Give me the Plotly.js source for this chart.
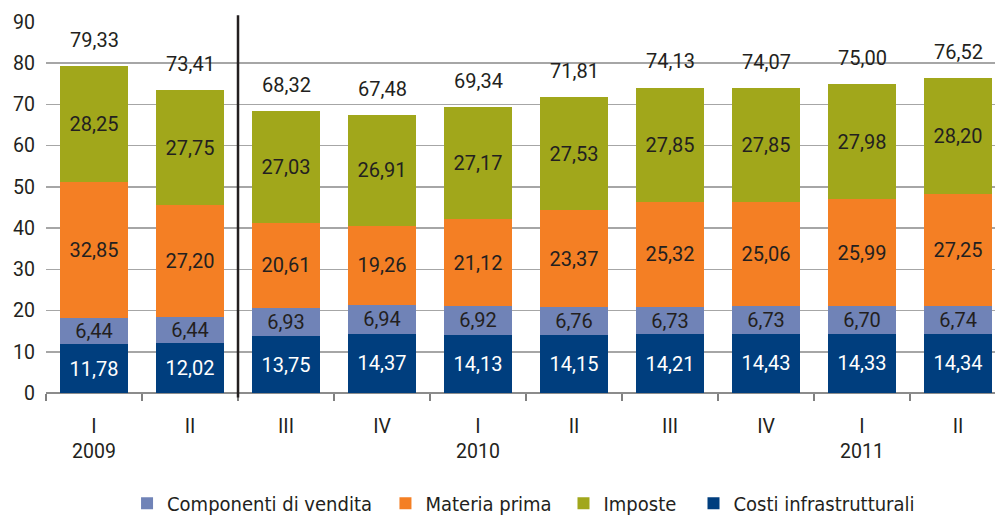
<!DOCTYPE html>
<html>
<head>
<meta charset="utf-8">
<script src="https://cdn.plot.ly/plotly-3.0.1.min.js"></script>
<style>html,body{margin:0;padding:0;background:#fff;}#chart{width:995px;height:515px;}</style>
</head>
<body>
<div id="chart"></div>
<script>
// ---- data ----
var categories = ["2009 I","2009 II","2009 III","2009 IV","2010 I","2010 II","2010 III","2010 IV","2011 I","2011 II"];
var tickLabels = ["I<br>2009","II","III","IV","I<br>2010","II","III","IV","I<br>2011","II"];
var costiInfrastrutturali = [11.78,12.02,13.75,14.37,14.13,14.15,14.21,14.43,14.33,14.34];
var componentiVendita    = [6.44,6.44,6.93,6.94,6.92,6.76,6.73,6.73,6.70,6.74];
var materiaPrima         = [32.85,27.20,20.61,19.26,21.12,23.37,25.32,25.06,25.99,27.25];
var imposte              = [28.25,27.75,27.03,26.91,27.17,27.53,27.85,27.85,27.98,28.20];
var totals               = [79.33,73.41,68.32,67.48,69.34,71.81,74.13,74.07,75.00,76.52];
var yTicks = [0,10,20,30,40,50,60,70,80,90];

function fmt(v){ return v.toFixed(2).replace('.', ','); }
var FONT = 'Roboto, "Noto Sans", sans-serif';
var LEGFONT = '"Liberation Sans Narrow", "DejaVu Sans Condensed", sans-serif';
var DARK = '#231f20';

function barTrace(name, vals, color, txtColor, legendId){
  return {
    type:'bar', name:name, x:categories, y:vals,
    text: vals.map(fmt), textposition:'inside', insidetextanchor:'middle',
    textangle:0, constraintext:'none',
    insidetextfont:{family:FONT, size:20, color:txtColor},
    marker:{color:color, line:{width:0}},
    legend: legendId, hoverinfo:'x+y+name'
  };
}

var data = [
  barTrace('Costi infrastrutturali', costiInfrastrutturali, '#003e7e', '#ffffff', 'legend4'),
  barTrace('Componenti di vendita', componentiVendita, '#7083b7', DARK, 'legend'),
  barTrace('Materia prima', materiaPrima, '#f47f24', DARK, 'legend2'),
  barTrace('Imposte', imposte, '#a1a71b', DARK, 'legend3')
];

var annotations = categories.map(function(c, i){
  return {x:c, y:totals[i], xref:'x', yref:'y', text:fmt(totals[i]), showarrow:false,
          yanchor:'bottom', yshift:12, font:{family:FONT, size:20, color:DARK}};
});

function leg(x){
  return {orientation:'h', x:x, xanchor:'left', xref:'paper',
          y:0.023, yanchor:'middle', yref:'container', bgcolor:'rgba(0,0,0,0)',
          font:{family:LEGFONT, size:20, color:DARK}, itemclick:false};
}

var layout = {
  width:995, height:515,
  margin:{l:46, r:0, t:22, b:122},
  paper_bgcolor:'#ffffff', plot_bgcolor:'#ffffff',
  barmode:'stack', bargap:0.29,
  showlegend:true,
  legend: leg(0.0854), legend2: leg(0.3577), legend3: leg(0.5453), legend4: leg(0.6823),
  xaxis:{type:'category', range:[-0.5, 9.385], tickmode:'array', tickvals:categories, ticktext:tickLabels,
         ticks:'outside', tickson:'boundaries', ticklen:7, tickwidth:1.5, tickcolor:'#808080',
         showline:false, showgrid:false, zeroline:false, ticklabelstandoff:19,
         tickfont:{family:FONT, size:19.5, color:DARK}},
  yaxis:{range:[0,90], tickmode:'array', tickvals:yTicks, ticks:'', showline:false,
         showgrid:true, gridcolor:'#a6a6a6', gridwidth:1.5,
         zeroline:true, zerolinecolor:'#8c8c8c', zerolinewidth:1.5,
         tickfont:{family:FONT, size:19.5, color:DARK}, ticklabelstandoff:10},
  shapes:[{type:'line', xref:'x', yref:'paper', x0:1.5, x1:1.5, y0:-0.012, y1:1.018,
           line:{color:DARK, width:2.5}, layer:'above'}],
  annotations: annotations
};

Plotly.newPlot('chart', data, layout, {displayModeBar:false, staticPlot:true});
</script>
</body>
</html>
